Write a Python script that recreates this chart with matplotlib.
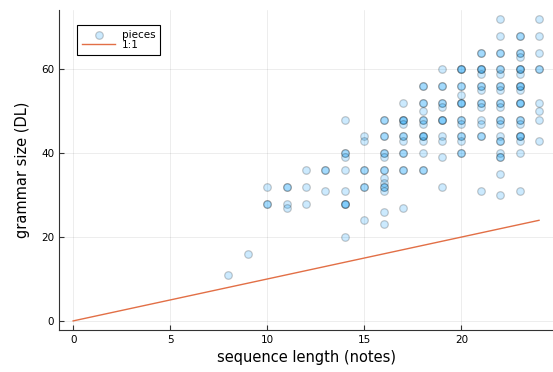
import matplotlib.pyplot as plt
import matplotlib as mpl

mpl.rcParams['font.family'] = 'DejaVu Sans'

# grammar size values, grouped by sequence length
lengths = [8, 9, 10, 11, 12, 13, 14, 15, 16, 17, 18, 19, 20, 21, 22, 23, 24]
counts = [1, 1, 3, 4, 3, 3, 10, 7, 16, 13, 15, 13, 17, 17, 24, 25, 9]
grammar_dl = [11,
              16,
              32, 28, 28,
              32, 32, 28, 27,
              36, 32, 28,
              36, 36, 31,
              48, 40, 40, 39, 36, 31, 28, 28, 28, 20,
              44, 43, 36, 36, 32, 32, 24,
              48, 48, 44, 44, 40, 40, 39, 36, 36, 34, 33, 32, 32, 31, 26, 23,
              52, 48, 48, 48, 47, 44, 44, 43, 40, 40, 36, 36, 27,
              56, 56, 52, 52, 50, 48, 48, 47, 44, 44, 44, 43, 40, 36, 36,
              60, 56, 56, 52, 52, 51, 48, 48, 48, 44, 43, 39, 32,
              60, 60, 60, 56, 56, 54, 52, 52, 52, 48, 48, 47, 44, 44, 43, 40, 40,
              64, 64, 60, 60, 60, 59, 56, 56, 55, 52, 52, 51, 48, 47, 44, 44, 31,
              72, 68, 64, 64, 60, 60, 59, 56, 56, 55, 52, 52, 51, 48, 48, 47, 44, 43, 43, 40, 39, 39, 35, 30,
              68, 68, 64, 64, 63, 60, 60, 60, 59, 56, 56, 56, 55, 52, 52, 52, 48, 48, 47, 44, 44, 44, 43, 40, 31,
              72, 68, 64, 60, 60, 52, 50, 48, 43]
seq_len = [l for l, c in zip(lengths, counts) for _ in range(c)]
ref_x = [0, 24]
ref_y = [0, 24]

fig = plt.figure(figsize=(5.53, 3.72), dpi=100)
ax = fig.add_axes([0.107, 0.113, 0.893, 0.86])

ax.scatter(seq_len, grammar_dl, s=30, facecolor=(0, 0.604, 0.98, 0.2),
           edgecolor=(0, 0, 0, 0.2), linewidth=0.9, label='pieces', zorder=3)
ax.plot(ref_x, ref_y, color='#E26F46', lw=1, label='1:1', zorder=2)

ax.set_xlim(-0.72, 24.72)
ax.set_ylim(-2.16, 74.16)
ax.set_xticks([0, 5, 10, 15, 20])
ax.set_yticks([0, 20, 40, 60])
ax.grid(True, color='black', alpha=0.1, lw=0.5)
ax.set_axisbelow(True)
for s in ['top', 'right']:
    ax.spines[s].set_visible(False)
for s in ['left', 'bottom']:
    ax.spines[s].set_color('#333333')
ax.tick_params(direction='in', length=3.5, labelsize=7.5, color='#333333')
ax.set_xlabel('sequence length (notes)', fontsize=10.5, labelpad=4)
ax.set_ylabel('grammar size (DL)', fontsize=10.5, labelpad=8)

leg = ax.legend(loc='upper left', fontsize=7.5, fancybox=False, framealpha=1,
                edgecolor='black', handlelength=3.2, borderpad=0.5,
                labelspacing=0.0, handletextpad=0.6, bbox_to_anchor=(0.025, 0.97))
leg.get_frame().set_linewidth(0.8)

fig.savefig('out.png', dpi=100)
